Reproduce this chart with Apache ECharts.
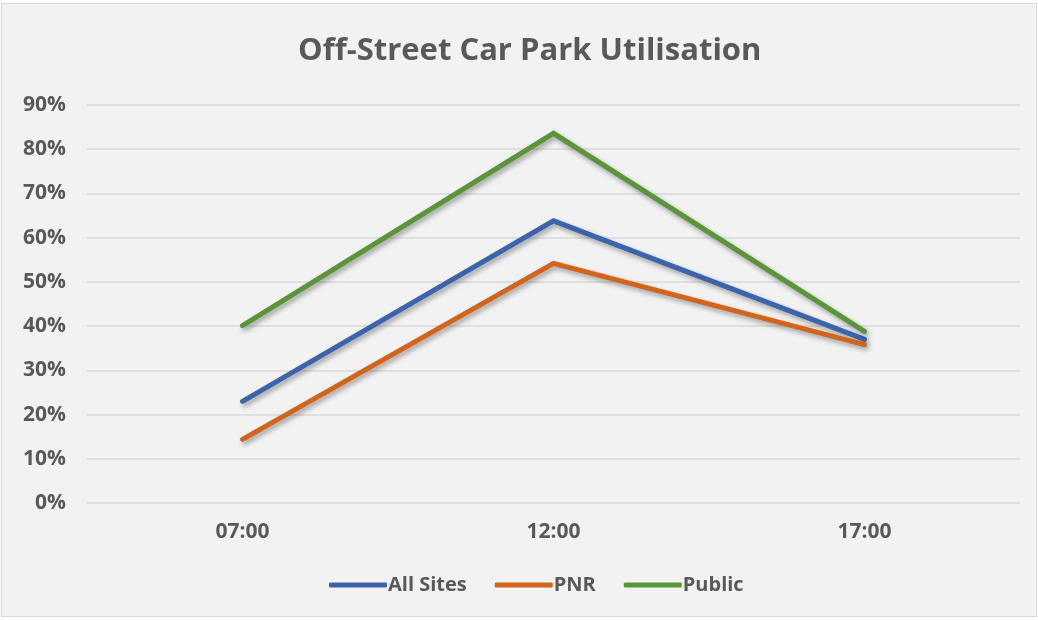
<!DOCTYPE html>
<html>
<head>
<meta charset="utf-8">
<script src="https://cdn.jsdelivr.net/npm/echarts@6/dist/echarts.min.js"></script>
<style>
  html, body { margin: 0; padding: 0; background: #fff; }
  #chart { width: 1036px; height: 614px; margin: 3px 0 0 1px; border: 1px solid #d9d9d9; box-sizing: border-box; }
</style>
</head>
<body>
<div id="chart"></div>
<script>
const times    = ['07:00', '12:00', '17:00'];
const allSites = [0.23, 0.638, 0.37];
const pnr      = [0.144, 0.542, 0.358];
const pub      = [0.401, 0.836, 0.388];

const COLORS = { bg: '#f2f2f2', grid: '#d9d9d9', text: '#595959', blue: '#3b64ad', orange: '#d2641c', green: '#5b9539' };
const FONT = '"Open Sans", "Noto Sans", sans-serif';

function line(name, data, color) {
  return {
    name, type: 'line', data, symbol: 'none',
    lineStyle: {
      color, width: 5, cap: 'round', join: 'miter',
      shadowColor: 'rgba(0,0,0,0.35)', shadowBlur: 5, shadowOffsetX: 2, shadowOffsetY: 3,
    },
    itemStyle: { color },
  };
}

const chart = echarts.init(document.getElementById('chart'), null, { renderer: 'canvas' });
chart.setOption({
  backgroundColor: COLORS.bg,
  animation: false,
  textStyle: { fontFamily: FONT },
  title: {
    text: 'Off-Street Car Park Utilisation',
    left: 291, top: 27,
    textStyle: { color: COLORS.text, fontSize: 31, fontWeight: 'bold', fontFamily: FONT },
  },
  grid: { left: 85, right: 16, top: 101, bottom: 113 },
  xAxis: {
    type: 'category', data: times,
    axisLine: { show: false }, axisTick: { show: false },
    axisLabel: { color: COLORS.text, fontSize: 21, fontWeight: 'bold', margin: 19 },
  },
  yAxis: {
    type: 'value', min: 0, max: 0.9, interval: 0.1,
    axisLine: { show: false }, axisTick: { show: false },
    splitLine: { lineStyle: { color: COLORS.grid, width: 1.5 } },
    axisLabel: {
      color: COLORS.text, fontSize: 21, fontWeight: 'bold', margin: 21,
      formatter: (v) => Math.round(v * 100) + '%',
    },
  },
  legend: {
    bottom: 16, left: 322, itemWidth: 58, itemHeight: 5, itemGap: 28,
    icon: 'roundRect',
    textStyle: { color: COLORS.text, fontSize: 20, fontWeight: 'bold', padding: [0, 0, 0, -4] },
    data: ['All Sites', 'PNR', 'Public'],
  },
  series: [
    line('All Sites', allSites, COLORS.blue),
    line('PNR', pnr, COLORS.orange),
    line('Public', pub, COLORS.green),
  ],
});
</script>
</body>
</html>
